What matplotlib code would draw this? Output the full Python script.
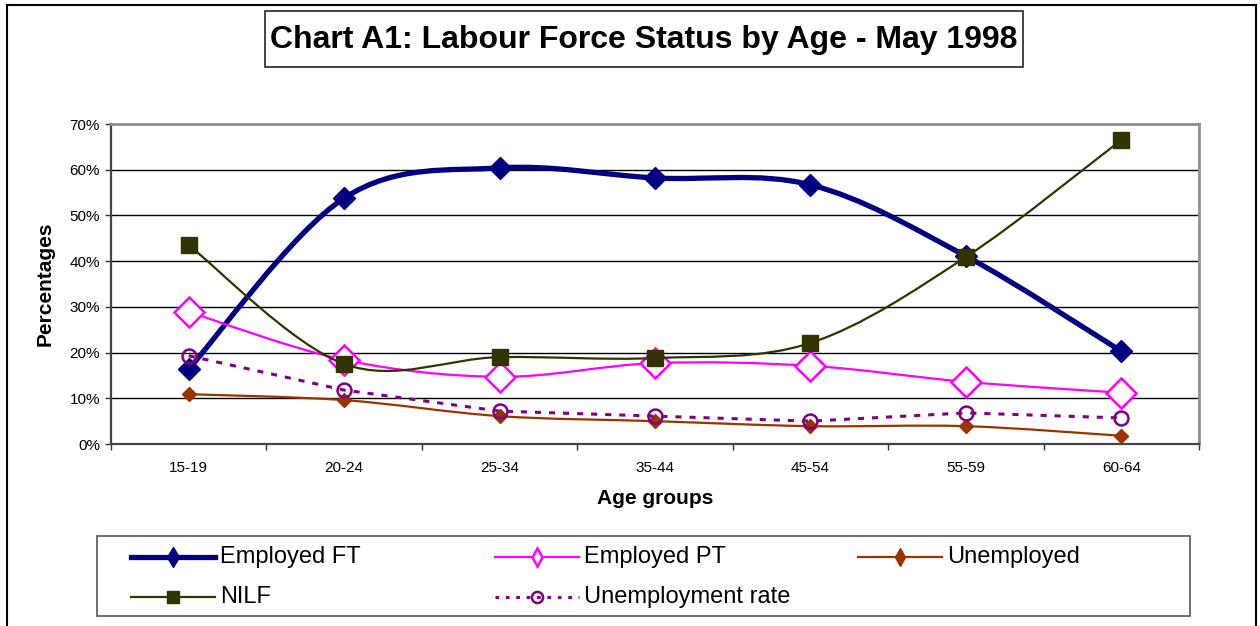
import numpy as np
import matplotlib
matplotlib.use('Agg')
import matplotlib.pyplot as plt
from matplotlib.path import Path
from matplotlib.patches import PathPatch, Rectangle
from matplotlib.lines import Line2D
from matplotlib.ticker import FixedLocator, FuncFormatter

plt.rcParams['font.family'] = ['Liberation Sans', 'DejaVu Sans']

age_groups = ['15-19', '20-24', '25-34', '35-44', '45-54', '55-59', '60-64']
employed_ft = [16.4, 53.8, 60.4, 58.2, 56.7, 41.1, 20.3]
employed_pt = [28.9, 18.4, 14.7, 17.7, 17.1, 13.6, 11.2]
unemployed = [10.9, 9.6, 6.1, 5.0, 3.9, 3.9, 1.8]
nilf = [43.5, 17.5, 19.0, 18.8, 22.1, 40.9, 66.5]
unemp_rate = [19.3, 11.8, 7.2, 6.1, 5.0, 6.8, 5.7]

W, H = 1260, 626


def fx(px):
    return px / W


def fy(py):
    return 1 - py / H


def smooth_path(xs, ys):
    # excel style smoothed line: cubic bezier through each point
    pts = np.column_stack([xs, ys]).astype(float)
    n = len(pts)
    verts = [pts[0]]
    codes = [Path.MOVETO]
    for i in range(n - 1):
        p0 = pts[max(i - 1, 0)]
        p1 = pts[i]
        p2 = pts[i + 1]
        p3 = pts[min(i + 2, n - 1)]
        verts += [p1 + (p2 - p0) / 6, p2 - (p3 - p1) / 6, p2]
        codes += [Path.CURVE4] * 3
    return Path(verts, codes)


fig = plt.figure(figsize=(W / 100, H / 100), dpi=100)

# outer chart border
fig.add_artist(Rectangle((fx(7), -0.05), fx(1249), fy(5) + 0.05, transform=fig.transFigure,
                         fill=False, edgecolor='black', lw=1.5))

# title box
fig.add_artist(Rectangle((fx(265), fy(67)), fx(758), 56 / H, transform=fig.transFigure,
                         fill=False, edgecolor='#222222', lw=1.2))
fig.text(fx(644), fy(40), 'Chart A1: Labour Force Status by Age - May 1998',
         ha='center', va='center', fontsize=23, fontweight='bold')

ax = fig.add_axes([fx(111), fy(444), fx(1088), 320 / H])
x = np.arange(len(age_groups))

series = [
    (employed_ft, dict(color='#000080', lw=3.8), dict(marker='D', ms=11, mfc='#000080', mec='#000080'), True),
    (employed_pt, dict(color='#ff00ff', lw=1.6), dict(marker='D', ms=15, mfc='white', mec='#ff00ff', mew=1.8), True),
    (unemployed, dict(color='#993300', lw=1.6), dict(marker='D', ms=7.5, mfc='#993300', mec='#993300'), True),
    (nilf, dict(color='#333300', lw=1.6), dict(marker='s', ms=11, mfc='#333300', mec='#333300'), True),
    (unemp_rate, dict(color='#800080', lw=2.2, ls=(0, (2, 2.6))), dict(marker='o', ms=10, mfc='none', mec='#800080', mew=1.8), False),
]

z = 3
for vals, lstyle, mstyle, smooth in series:
    if smooth:
        ax.add_patch(PathPatch(smooth_path(x, vals), fill=False, edgecolor=lstyle['color'],
                               lw=lstyle['lw'], zorder=z, capstyle='round'))
    else:
        ax.plot(x, vals, color=lstyle['color'], lw=lstyle['lw'], ls=lstyle['ls'], zorder=z)
    ax.plot(x, vals, ls='none', zorder=z + 0.5, **mstyle)
    z += 1

ax.set_xlim(-0.5, len(age_groups) - 0.5)
ax.set_ylim(0, 70)
ax.yaxis.set_major_locator(FixedLocator(np.arange(0, 71, 10)))
ax.yaxis.set_major_formatter(FuncFormatter(lambda v, p: '%d%%' % v))
ax.xaxis.set_major_locator(FixedLocator(np.arange(-0.5, len(age_groups), 1)))
ax.xaxis.set_major_formatter(FuncFormatter(lambda v, p: ''))
ax.xaxis.set_minor_locator(FixedLocator(x))
ax.set_xticklabels(age_groups, minor=True)
ax.tick_params(axis='x', which='minor', length=0, labelsize=11, pad=12)
ax.tick_params(axis='x', which='major', length=4, direction='out', width=1, color='#333333')
ax.tick_params(axis='y', length=4, direction='out', width=1, color='#333333', labelsize=11, pad=4)
ax.yaxis.grid(True, color='black', lw=1)
ax.set_axisbelow(True)
for s in ['top', 'right']:
    ax.spines[s].set_color('#909090')
    ax.spines[s].set_linewidth(2)
for s in ['left', 'bottom']:
    ax.spines[s].set_color('#444444')
    ax.spines[s].set_linewidth(1.6)

fig.text(fx(45), fy(284), 'Percentages', rotation=90, ha='center', va='center',
         fontsize=15, fontweight='bold')
fig.text(fx(655), fy(499), 'Age groups', ha='center', va='center',
         fontsize=15, fontweight='bold')

# legend drawn by hand to get Excel's equal column layout
fig.add_artist(Rectangle((fx(97), fy(616)), fx(1093), 80 / H, transform=fig.transFigure,
                         fill=False, edgecolor='#555555', lw=1.2))
legend_items = [
    ('Employed FT', 131, 557, series[0]),
    ('Employed PT', 495, 557, series[1]),
    ('Unemployed', 858, 557, series[2]),
    ('NILF', 131, 597, series[3]),
    ('Unemployment rate', 495, 597, series[4]),
]
leg_ms = {'Employed FT': 10, 'Employed PT': 9, 'Unemployed': 9, 'NILF': 9, 'Unemployment rate': 8}
for label, px, py, (vals, lstyle, mstyle, smooth) in legend_items:
    ls = '-' if smooth else (0, (1.2, 2.2))
    fig.add_artist(Line2D([fx(px), fx(px + 84)], [fy(py), fy(py)], transform=fig.transFigure,
                          color=lstyle['color'], lw=lstyle['lw'], ls=ls))
    ms = dict(mstyle)
    ms['ms'] = leg_ms[label]
    if ms['marker'] == 'D':
        ms['marker'] = 'd'
    fig.add_artist(Line2D([fx(px + 42)], [fy(py)], transform=fig.transFigure, ls='none', **ms))
    fig.text(fx(px + 89), fy(py), label, ha='left', va='center', fontsize=17)

fig.savefig('out.png', dpi=100)
